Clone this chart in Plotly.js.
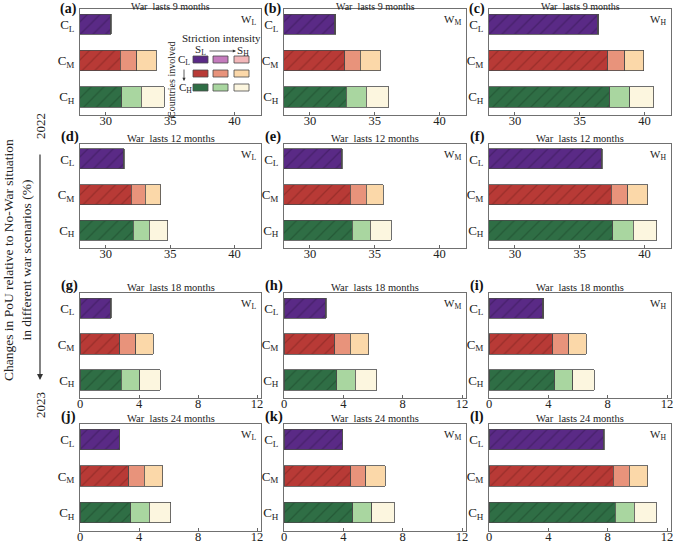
<!DOCTYPE html>
<html>
<head>
<meta charset="utf-8">
<script src="https://cdn.plot.ly/plotly-3.0.1.min.js"></script>
<style>html,body{margin:0;padding:0;background:#fff;}#chart{width:676px;height:544px;}</style>
</head>
<body>
<div id="chart"></div>
<script>
// ---------------- DATA ----------------
const countries = ['C<sub>L</sub>', 'C<sub>M</sub>', 'C<sub>H</sub>'];
const warLevels = ['W<sub>L</sub>', 'W<sub>M</sub>', 'W<sub>H</sub>'];
const durations = ['9', '12', '18', '24'];
const panelLetters = ['(a)','(b)','(c)','(d)','(e)','(f)','(g)','(h)','(i)','(j)','(k)','(l)'];
const ticksTop = [30, 35, 40];
const ticksBottom = [0, 4, 8, 12];
// cumulative bar ends at S_L, S_M, S_H ; rows = C_L, C_M, C_H
const pa = [[30.36, 30.40, 30.44], [31.14, 32.40, 33.90], [31.24, 32.77, 34.55]];
const pb = [[31.92, 31.95, 31.98], [32.69, 33.90, 35.44], [32.79, 34.33, 36.10]];
const pc = [[36.40, 36.43, 36.46], [37.16, 38.46, 39.95], [37.32, 38.88, 40.73]];
const pd = [[31.36, 31.39, 31.42], [31.96, 33.05, 34.26], [32.14, 33.36, 34.83]];
const pe = [[32.42, 32.45, 32.48], [33.13, 34.33, 35.67], [33.28, 34.67, 36.28]];
const pf = [[36.69, 36.72, 36.75], [37.45, 38.70, 40.25], [37.55, 39.14, 40.95]];
const pg = [[2.07, 2.09, 2.11], [2.69, 3.78, 4.96], [2.80, 4.05, 5.45]];
const ph = [[2.80, 2.82, 2.84], [3.41, 4.48, 5.70], [3.55, 4.82, 6.25]];
const pi = [[3.64, 3.66, 3.68], [4.30, 5.39, 6.55], [4.43, 5.66, 7.09]];
const pj = [[2.67, 2.69, 2.71], [3.30, 4.36, 5.62], [3.44, 4.68, 6.16]];
const pk = [[3.91, 3.93, 3.95], [4.50, 5.52, 6.82], [4.64, 5.93, 7.43]];
const pl = [[7.73, 7.75, 7.77], [8.36, 9.45, 10.70], [8.50, 9.80, 11.27]];
const panels = [pa, pb, pc, pd, pe, pf, pg, ph, pi, pj, pk, pl];

// ---------------- STYLE ----------------
const segColors = [
  ['#5a2a86', '#b83a36', '#2f6e45'],
  ['#c47bbd', '#e8937b', '#a9d6a0'],
  ['#f3b7b9', '#fbd8a9', '#fcf6df']
];
const hatchColors = ['#47206b', '#9a2e2a', '#255a37'];
const W = 676, H = 544;
const colsPx = [[80, 261], [284, 466], [489, 671]];
const rowsPx = [[9, 115], [144, 248], [293, 398], [424, 531]];
const FONT = 'Liberation Serif, Times New Roman, serif';
const px = v => v / W;
const py = v => 1 - v / H;

const data = [];
const layout = {
  width: W, height: H,
  margin: {l: 0, r: 0, t: 0, b: 0},
  paper_bgcolor: '#fff', plot_bgcolor: '#fff',
  barmode: 'stack', bargap: 0,
  showlegend: false,
  font: {family: FONT, size: 12, color: '#222'},
  annotations: [], shapes: []
};

panels.forEach((vals, k) => {
  const r = Math.floor(k / 3), c = k % 3;
  const xid = k === 0 ? 'x' : 'x' + (k + 1);
  const yid = k === 0 ? 'y' : 'y' + (k + 1);
  const topRows = r < 2;
  // first (hatched) segment: one trace per country group
  countries.forEach((cn, ci) => {
    data.push({
      type: 'bar', orientation: 'h',
      y: [cn], x: [vals[ci][0]],
      xaxis: xid, yaxis: yid, width: 0.56,
      marker: {
        color: segColors[0][ci],
        line: {color: '#4a4a4a', width: 0.8},
        pattern: {shape: '/', fillmode: 'replace', bgcolor: segColors[0][ci], fgcolor: hatchColors[ci], size: 9, solidity: 0.14}
      },
      hoverinfo: 'skip'
    });
  });
  for (let s = 1; s < 3; s++) {
    const widths = vals.map(row => row[s] - row[s - 1]);
    data.push({
      type: 'bar', orientation: 'h',
      y: countries, x: widths,
      xaxis: xid, yaxis: yid, width: 0.56,
      marker: {color: segColors[s], line: {color: '#4a4a4a', width: 0.8}},
      hoverinfo: 'skip'
    });
  }
  const xa = xid.replace('x', 'xaxis'), ya = yid.replace('y', 'yaxis');
  layout[xa] = {
    domain: [px(colsPx[c][0]), px(colsPx[c][1])],
    anchor: yid,
    range: topRows ? [28, 42.05] : [0, 12.27],
    tickvals: topRows ? ticksTop : ticksBottom,
    ticks: 'inside', ticklen: 3, tickcolor: '#666',
    ticklabelstandoff: -6,
    showline: true, mirror: true, linecolor: '#707070', linewidth: 1,
    showgrid: false, zeroline: false,
    tickfont: {family: FONT, size: 12.5, color: '#222'}
  };
  layout[ya] = {
    domain: [py(rowsPx[r][1]), py(rowsPx[r][0])],
    anchor: xid,
    type: 'category', categoryorder: 'array', categoryarray: countries,
    range: [2.5, -0.42],
    ticks: '', ticklabelstandoff: 2,
    showline: true, mirror: true, linecolor: '#707070', linewidth: 1,
    showgrid: false, zeroline: false,
    tickfont: {family: FONT, size: 13, color: '#222'}
  };
  const cx = (colsPx[c][0] + colsPx[c][1]) / 2;
  layout.annotations.push(r === 0 ? {
    xref: 'paper', yref: 'paper', x: px(cx), y: 1,
    xanchor: 'center', yanchor: 'top', showarrow: false, borderpad: 0,
    text: 'War  lasts ' + durations[r] + ' months',
    font: {family: FONT, size: 10, color: '#222'}
  } : {
    xref: 'paper', yref: 'paper', x: px(cx), y: py(rowsPx[r][0] + 0.5),
    xanchor: 'center', yanchor: 'bottom', showarrow: false, borderpad: 0,
    text: 'War  lasts ' + durations[r] + ' months',
    font: {family: FONT, size: 10.5, color: '#222'}
  });
  layout.annotations.push({
    xref: 'paper', yref: 'paper', x: px(colsPx[c][1] - 3), y: py(rowsPx[r][0] + 2),
    xanchor: 'right', yanchor: 'top', showarrow: false,
    text: warLevels[c],
    font: {family: FONT, size: 11, color: '#222'}
  });
  layout.annotations.push(r === 0 ? {
    xref: 'paper', yref: 'paper', x: px(colsPx[c][0] - 21), y: 1,
    xanchor: 'left', yanchor: 'top', showarrow: false, borderpad: 0,
    text: '<b>' + panelLetters[k] + '</b>',
    font: {family: FONT, size: 14, color: '#111'}
  } : {
    xref: 'paper', yref: 'paper', x: px(colsPx[c][0] - 21), y: py(rowsPx[r][0] - 7.5),
    xanchor: 'left', yanchor: 'middle', showarrow: false,
    text: '<b>' + panelLetters[k] + '</b>',
    font: {family: FONT, size: 14.5, color: '#111'}
  });
});

// ---------------- inset legend in panel (a) ----------------
const swCols = [[193, 208], [213, 228], [234, 249]];
const swRows = [[56, 63], [70, 77], [84, 91]];
for (let rr = 0; rr < 3; rr++) {
  for (let cc = 0; cc < 3; cc++) {
    layout.shapes.push({
      type: 'rect', xref: 'paper', yref: 'paper',
      x0: px(swCols[cc][0]), x1: px(swCols[cc][1]),
      y0: py(swRows[rr][1]), y1: py(swRows[rr][0]),
      fillcolor: segColors[cc][rr], line: {color: '#4a4a4a', width: 0.8}
    });
  }
}
const legText = (x, y, t, sz, ang) => layout.annotations.push({
  xref: 'paper', yref: 'paper', x: px(x), y: py(y), xanchor: 'center', yanchor: 'middle',
  showarrow: false, text: t, textangle: ang || 0, font: {family: FONT, size: sz, color: '#222'}
});
legText(221, 38, 'Striction intensity', 11);
legText(200, 50, 'S<sub>L</sub>', 11);
legText(243, 51, 'S<sub>H</sub>', 11);
legText(184, 60, 'C<sub>L</sub>', 11);
legText(185, 88, 'C<sub>H</sub>', 11);
legText(171, 80, 'Countries involved', 10, -90);
layout.annotations.push({
  xref: 'paper', yref: 'paper', x: px(236), y: py(51), ax: -28, ay: 0,
  showarrow: true, arrowhead: 2, arrowsize: 0.8, arrowwidth: 0.8, arrowcolor: '#333', text: ''
});
layout.annotations.push({
  xref: 'paper', yref: 'paper', x: px(184), y: py(81), ax: 0, ay: -13,
  showarrow: true, arrowhead: 2, arrowsize: 0.8, arrowwidth: 0.8, arrowcolor: '#333', text: ''
});

// ---------------- left global label and year arrow ----------------
layout.annotations.push({
  xref: 'paper', yref: 'paper', x: px(17), y: py(260), xanchor: 'center', yanchor: 'middle',
  showarrow: false, textangle: -90,
  text: 'Changes in PoU relative to No-War situation<br>in different war scenarios (%)',
  font: {family: FONT, size: 13.5, color: '#222'}
});
layout.annotations.push({
  xref: 'paper', yref: 'paper', x: px(40), y: py(126), xanchor: 'center', yanchor: 'middle',
  showarrow: false, textangle: -90, text: '2022', font: {family: FONT, size: 13, color: '#222'}
});
layout.annotations.push({
  xref: 'paper', yref: 'paper', x: px(40), y: py(405), xanchor: 'center', yanchor: 'middle',
  showarrow: false, textangle: -90, text: '2023', font: {family: FONT, size: 13, color: '#222'}
});
layout.annotations.push({
  xref: 'paper', yref: 'paper', x: px(40), y: py(380), ax: 0, ay: -227,
  showarrow: true, arrowhead: 2, arrowsize: 1, arrowwidth: 1.2, arrowcolor: '#333', text: ''
});

Plotly.newPlot('chart', data, layout, {displayModeBar: false, staticPlot: true});
</script>
</body>
</html>
